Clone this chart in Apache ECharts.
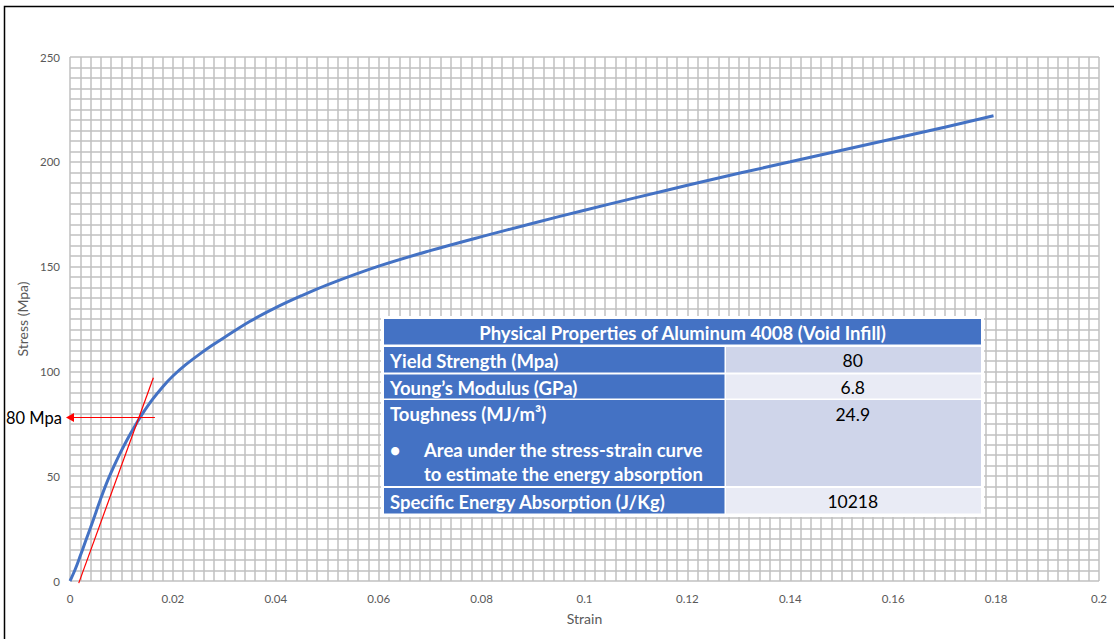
<!DOCTYPE html>
<html>
<head>
<meta charset="utf-8">
<script src="https://cdn.jsdelivr.net/npm/echarts@6/dist/echarts.min.js"></script>
<style>
html,body{margin:0;padding:0;background:#fff;}
#chart{width:1114px;height:639px;}
</style>
</head>
<body>
<div id="chart"></div>
<script>
// Stress-strain curve (strain, stress in MPa)
const strain = [0, 0.001, 0.002, 0.003, 0.004, 0.005, 0.006, 0.007, 0.008, 0.009, 0.010, 0.011, 0.012, 0.013, 0.014, 0.016, 0.018, 0.020, 0.0225, 0.025, 0.0275, 0.030, 0.035, 0.040, 0.045, 0.050, 0.060, 0.070, 0.080, 0.090, 0.100, 0.110, 0.120, 0.130, 0.140, 0.150, 0.160, 0.170, 0.1795];
const stress = [0, 5.5, 12.0, 18.8, 25.5, 32.5, 39.5, 46.0, 51.8, 57.2, 62.2, 66.9, 71.3, 75.5, 79.5, 86.5, 92.6, 97.8, 103.2, 107.9, 112.2, 116.2, 123.9, 130.4, 136.1, 141.3, 150.2, 157.6, 164.3, 170.7, 176.9, 182.9, 188.8, 194.5, 200.0, 205.5, 211.0, 216.5, 222.0];
// Tangent (Young's modulus) line endpoints
const tangentStrain = [0.0017, 0.0162];
const tangentStress = [-1, 97];
// Yield strength indicator
const yieldLine = {fromStrain: 0.0165, toStrain: 0, stress: 78, label: '80 Mpa'};

// Table content
const tableTitle = 'Physical Properties of Aluminum 4008 (Void Infill)';
const tableLabels = ['Yield Strength (Mpa)', 'Young\u2019s Modulus (GPa)', 'Toughness (MJ/m\u00B3)', 'Specific Energy Absorption (J/Kg)'];
const tableValues = ['80', '6.8', '24.9', '10218'];
const toughnessNote = ['Area under the stress-strain curve', 'to estimate the energy absorption'];

const xTicks = {min: 0, max: 0.2, interval: 0.02};
const yTicks = {min: 0, max: 250, interval: 50};

const chart = echarts.init(document.getElementById('chart'), null, {renderer: 'svg'});

const gridColor = '#c0c0c0';
const gridW = 1.5;
const FONT = 'Lato, "Open Sans", sans-serif';
const LBL = 'bold 18.5px ' + FONT;
const VAL = '17.5px ' + FONT;

// table geometry (pixels, layout only)
const T = {x: 381, y: 316, w: 603, h: 201, left: 384, right: 981, mid: 724.5};
const rows = [
  {y: 319, h: 25.5},   // title
  {y: 347, h: 25.5},
  {y: 374.5, h: 24},
  {y: 400, h: 86},
  {y: 488, h: 25.5}
];
const valFills = ['#CFD5EA', '#E9EBF5', '#CFD5EA', '#E9EBF5'];
const blue = '#4472C4';

const g = [];
// outer frame (only top & left visible)
g.push({type: 'rect', shape: {x: 4.5, y: 6.5, width: 1300, height: 800}, style: {fill: 'none', stroke: '#000', lineWidth: 1.5}, silent: true, z: 0});
// table white background
g.push({type: 'rect', shape: {x: T.x, y: T.y, width: T.w, height: T.h}, style: {fill: '#fff'}, z: 10});
// title
g.push({type: 'rect', shape: {x: T.left, y: rows[0].y, width: T.right - T.left, height: rows[0].h}, style: {fill: blue}, z: 11});
g.push({type: 'text', x: (T.left + T.right) / 2, y: rows[0].y + rows[0].h / 2 + 1, style: {text: tableTitle, fill: '#fff', font: LBL, textAlign: 'center', verticalAlign: 'middle', textVerticalAlign: 'middle'}, z: 12});
for (let i = 0; i < 4; i++) {
  const r = rows[i + 1];
  g.push({type: 'rect', shape: {x: T.left, y: r.y, width: T.mid - T.left, height: r.h}, style: {fill: blue}, z: 11});
  g.push({type: 'rect', shape: {x: T.mid + 1.5, y: r.y, width: T.right - T.mid - 1.5, height: r.h}, style: {fill: valFills[i]}, z: 11});
  const ty = (i === 2) ? r.y + 14 : r.y + r.h / 2 + 1;
  g.push({type: 'text', x: 390, y: ty, style: {text: tableLabels[i], fill: '#fff', font: LBL, textAlign: 'left', verticalAlign: 'middle', textVerticalAlign: 'middle'}, z: 12});
  g.push({type: 'text', x: (T.mid + T.right) / 2, y: ty, style: {text: tableValues[i], fill: '#000', font: VAL, textAlign: 'center', verticalAlign: 'middle', textVerticalAlign: 'middle'}, z: 12});
}
// toughness note
g.push({type: 'text', x: 395, y: 450, style: {text: '\u2022', fill: '#fff', font: LBL, textAlign: 'center', verticalAlign: 'middle', textVerticalAlign: 'middle'}, z: 12});
g.push({type: 'text', x: 424, y: 450, style: {text: toughnessNote[0], fill: '#fff', font: LBL, textAlign: 'left', verticalAlign: 'middle', textVerticalAlign: 'middle'}, z: 12});
g.push({type: 'text', x: 424, y: 474, style: {text: toughnessNote[1], fill: '#fff', font: LBL, textAlign: 'left', verticalAlign: 'middle', textVerticalAlign: 'middle'}, z: 12});

const axisLabelStyle = {color: '#595959', fontSize: 11.5, fontFamily: FONT};

const option = {
  animation: false,
  backgroundColor: '#fff',
  grid: {left: 70, right: 15, top: 57, bottom: 58, containLabel: false},
  xAxis: {
    type: 'value', min: xTicks.min, max: xTicks.max, interval: xTicks.interval,
    name: 'Strain', nameLocation: 'middle', nameGap: 30,
    nameTextStyle: {color: '#595959', fontSize: 14, fontFamily: FONT},
    axisLine: {show: false}, axisTick: {show: false},
    axisLabel: Object.assign({margin: 11}, axisLabelStyle),
    splitLine: {show: true, lineStyle: {color: gridColor, width: gridW}},
    minorTick: {show: false, splitNumber: 10},
    minorSplitLine: {show: true, lineStyle: {color: gridColor, width: gridW}}
  },
  yAxis: {
    type: 'value', min: yTicks.min, max: yTicks.max, interval: yTicks.interval,
    name: 'Stress (Mpa)', nameLocation: 'middle', nameGap: 33,
    nameTextStyle: {color: '#595959', fontSize: 14, fontFamily: FONT},
    axisLine: {show: false}, axisTick: {show: false},
    axisLabel: Object.assign({margin: 10}, axisLabelStyle),
    splitLine: {show: true, lineStyle: {color: gridColor, width: gridW}},
    minorTick: {show: false, splitNumber: 10},
    minorSplitLine: {show: true, lineStyle: {color: gridColor, width: gridW}}
  },
  series: [
    {
      type: 'line', name: 'Stress-Strain',
      data: strain.map((s, i) => [s, stress[i]]),
      smooth: 0.35, showSymbol: false, symbol: 'none',
      lineStyle: {color: '#4472C4', width: 3},
      z: 3
    },
    {
      type: 'line', name: 'Tangent',
      data: tangentStrain.map((s, i) => [s, tangentStress[i]]),
      showSymbol: false, symbol: 'none', clip: false,
      lineStyle: {color: '#FF0000', width: 1.2},
      z: 4,
      markLine: {
        silent: true, symbol: ['none', 'triangle'], symbolSize: [9, 8],
        lineStyle: {color: '#FF0000', width: 1, type: 'solid'},
        label: {show: true, position: 'end', formatter: yieldLine.label, color: '#000', fontSize: 16.5, fontFamily: FONT, distance: 8},
        data: [[{coord: [yieldLine.fromStrain, yieldLine.stress]}, {coord: [yieldLine.toStrain, yieldLine.stress]}]]
      }
    }
  ],
  graphic: g
};
chart.setOption(option);
</script>
</body>
</html>
